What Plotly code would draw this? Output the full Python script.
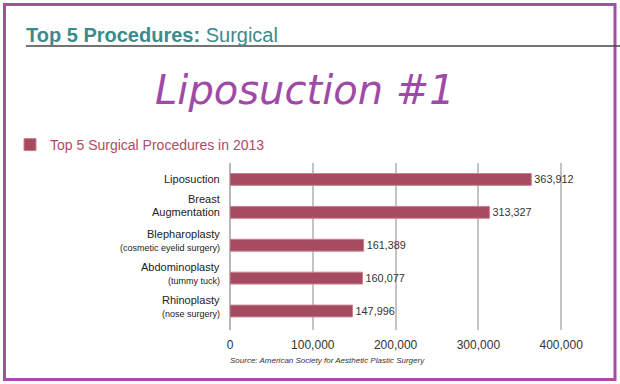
import plotly.graph_objects as go

categories = ["Liposuction", "Breast Augmentation", "Blepharoplasty", "Abdominoplasty", "Rhinoplasty"]
label_main = ["Liposuction", "Breast", "Blepharoplasty", "Abdominoplasty", "Rhinoplasty"]
label_line2 = ["", "Augmentation", "", "", ""]
label_sub = ["", "", "(cosmetic eyelid surgery)", "(tummy tuck)", "(nose surgery)"]
values = [363912, 313327, 161389, 160077, 147996]
tick_vals = [0, 100000, 200000, 300000, 400000]
tick_text = ["0", "100,000", "200,000", "300,000", "400,000"]
series_name = "Top 5 Surgical Procedures in 2013"

W, H = 620, 384
L, R, T, B = 230, 34, 163, 54
pw, ph = W - L - R, H - T - B

def px(x):
    return (x - L) / pw

def py(y):
    return (H - B - y) / ph

FONT = "Liberation Sans, Arial, sans-serif"
BAR = "#a64b5f"

fig = go.Figure()
fig.add_trace(go.Bar(
    x=values, y=categories, orientation="h", name=series_name,
    marker=dict(color=BAR, line=dict(color="#c98090", width=1)),
    texttemplate="%{x:,}", textposition="outside",
    textfont=dict(family=FONT, size=11, color="#333333"),
    cliponaxis=False, showlegend=True,
))

annotations = []
for cat, m, m2, s in zip(categories, label_main, label_line2, label_sub):
    if s:
        lines = [(m, 11, 11), (s, 9, -3)]
    elif m2:
        lines = [(m, 11, 13), (m2, 11, 0)]
    else:
        lines = [(m, 11, 0)]
    for txt, size, ys in lines:
        annotations.append(dict(
            xref="paper", yref="y", x=0, y=cat, xanchor="right", yanchor="middle",
            xshift=-8, yshift=ys, text=txt, showarrow=False, align="right",
            font=dict(family=FONT, size=size, color="#222222"),
        ))

annotations += [
    dict(xref="paper", yref="paper", x=px(24), y=py(35), xanchor="left", yanchor="middle",
         text="<b>Top 5 Procedures:</b> Surgical", showarrow=False,
         font=dict(family=FONT, size=20, color="#3d8a8c")),
    dict(xref="paper", yref="paper", x=px(305), y=py(90), xanchor="center", yanchor="middle",
         text="<i>Liposuction #1</i>", showarrow=False,
         font=dict(family="DejaVu Sans, sans-serif", size=40, color="#a04aa8")),
    dict(xref="paper", yref="paper", x=px(228), y=py(360), xanchor="left", yanchor="middle",
         text="<i>Source: American Society for Aesthetic Plastic Surgery</i>", showarrow=False,
         font=dict(family=FONT, size=8, color="#333333")),
]

shapes = [
    dict(type="rect", xref="paper", yref="paper", x0=px(4.5), x1=px(615), y0=py(4.5), y1=py(379.5),
         line=dict(color="#a44ea8", width=3), fillcolor="rgba(0,0,0,0)", layer="above"),
    dict(type="line", xref="paper", yref="paper", x0=px(26), x1=px(620), y0=py(46), y1=py(46),
         line=dict(color="#444444", width=1.5)),
]

fig.update_layout(
    width=W, height=H, margin=dict(l=L, r=R, t=T, b=B, autoexpand=False),
    paper_bgcolor="white", plot_bgcolor="white",
    bargap=0.64,
    xaxis=dict(range=[0, 430000], tickvals=tick_vals, ticktext=tick_text,
               showgrid=True, gridcolor="#c4c4c4", gridwidth=1.5, zeroline=True,
               zerolinecolor="#b8b8b8", zerolinewidth=1.5,
               ticks="", ticklabelstandoff=6,
               tickfont=dict(family=FONT, size=12, color="#333333"), fixedrange=True),
    yaxis=dict(categoryorder="array", categoryarray=categories, autorange="reversed",
               showticklabels=False, showgrid=False, zeroline=False, fixedrange=True),
    showlegend=True,
    legend=dict(x=px(10), y=py(145), xanchor="left", yanchor="middle",
                font=dict(family=FONT, size=14, color="#b04a68"), bgcolor="rgba(0,0,0,0)"),
    annotations=annotations, shapes=shapes,
)

fig.write_html("out.html", config={"displayModeBar": False},
               post_script="document.body.style.margin='0';")
